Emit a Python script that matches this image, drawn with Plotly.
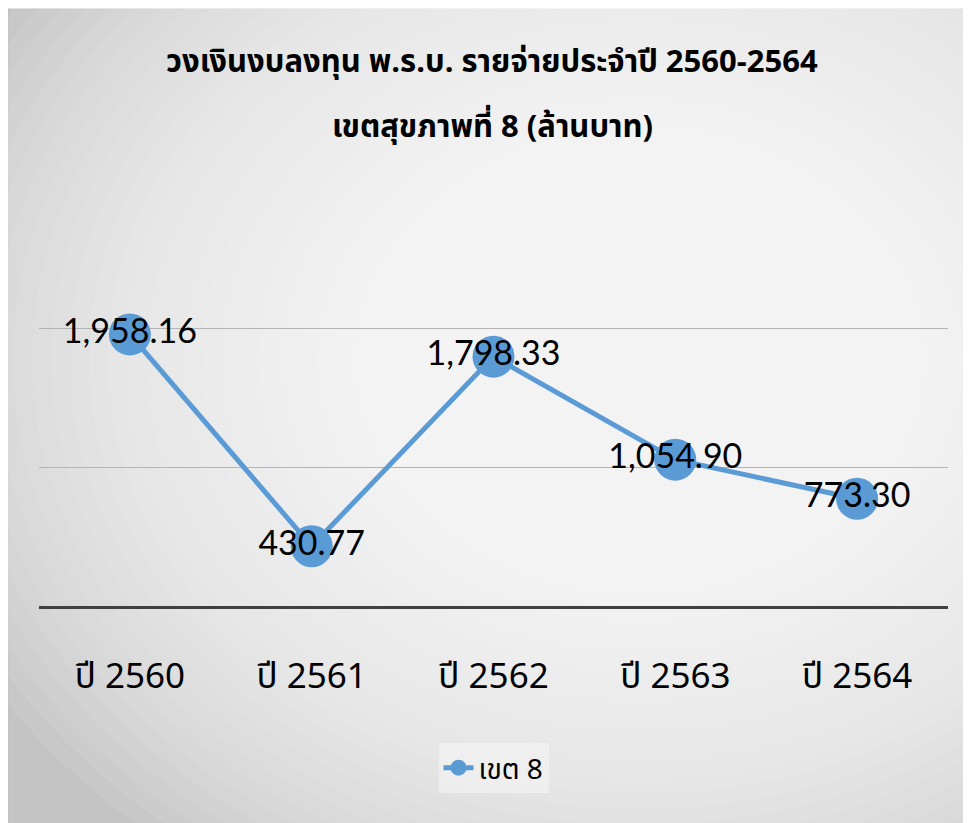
import plotly.graph_objects as go

categories = ["ปี 2560", "ปี 2561", "ปี 2562", "ปี 2563", "ปี 2564"]
values = [1958.16, 430.77, 1798.33, 1054.90, 773.30]
labels = ["1,958.16", "430.77", "1,798.33", "1,054.90", "773.30"]
series_name = "เขต 8"
title_line1 = "วงเงินงบลงทุน พ.ร.บ. รายจ่ายประจำปี 2560-2564"
title_line2 = "เขตสุขภาพที่ 8 (ล้านบาท)"

W, H = 963, 815
OFF = 8  # page body margin
L, R, T, B = 31, 23, 182, 217
pw = W - L - R
ph = H - T - B

def px2x(px):
    return (px - OFF - L) / pw

def py2y(py):
    return (H - B - (py - OFF)) / ph

shapes = []
shapes.append(dict(type="rect", xref="paper", yref="paper", layer="below",
                   x0=px2x(8), x1=px2x(972), y0=py2y(824), y1=py2y(9),
                   fillcolor="#c4c4c4", line=dict(color="#bdbdbd", width=1)))
cx, cy = 640, 360
n = 40
rmax_x, rmax_y = 760, 620
for i in range(n):
    f = 1 - i / n
    rx, ry = rmax_x * f, rmax_y * f
    shapes.append(dict(type="circle", xref="paper", yref="paper", layer="below",
                       x0=px2x(cx - rx), x1=px2x(cx + rx),
                       y0=py2y(cy + ry), y1=py2y(cy - ry),
                       fillcolor="rgba(255,255,255,0.075)", line=dict(width=0)))

thai = "Noto Sans Thai, Liberation Sans, Noto Sans, sans-serif"

fig = go.Figure()
fig.add_trace(go.Scatter(
    x=categories, y=values, mode="lines+markers+text", name=series_name,
    text=labels, textposition="middle center",
    textfont=dict(size=34, color="black", family="Lato, Noto Sans, sans-serif"),
    line=dict(color="#5B9BD5", width=5),
    marker=dict(size=42, color="#5B9BD5"),
    cliponaxis=False,
))

fig.update_layout(
    width=W, height=H,
    margin=dict(l=L, r=R, t=T, b=B),
    paper_bgcolor="white", plot_bgcolor="rgba(0,0,0,0)",
    shapes=shapes,
    showlegend=True,
    legend=dict(orientation="h", x=0.5, xanchor="center", y=py2y(768), yanchor="middle",
                bgcolor="rgba(245,245,245,0.6)",
                font=dict(size=28, color="black", family=thai)),
    annotations=[
        dict(text="<b>" + title_line1 + "</b>", xref="paper", yref="paper", x=px2x(492), y=py2y(62),
             xanchor="center", yanchor="middle", showarrow=False,
             font=dict(size=31, color="black", family=thai)),
        dict(text="<b>" + title_line2 + "</b>", xref="paper", yref="paper", x=px2x(492), y=py2y(127),
             xanchor="center", yanchor="middle", showarrow=False,
             font=dict(size=31, color="black", family=thai)),
    ],
    xaxis=dict(range=[-0.5, 4.5], showgrid=False, showline=True, linecolor="#404040", linewidth=3,
               ticks="", tickfont=dict(size=35, color="black", family=thai),
               ticklabelstandoff=37),
    yaxis=dict(range=[0, 3000], dtick=1000, showticklabels=False, showgrid=True,
               gridcolor="#b4b4b4", gridwidth=1, zeroline=False, fixedrange=True),
)

fig.write_html("out.html")
